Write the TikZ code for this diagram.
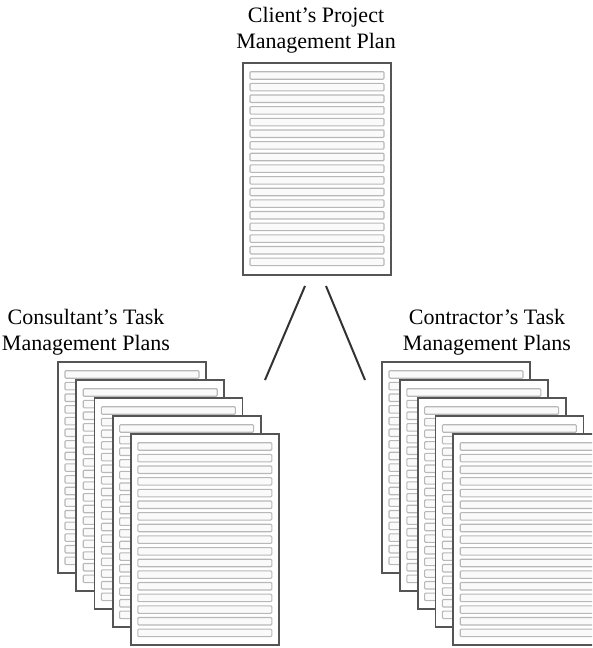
\documentclass[tikz,border=0pt]{standalone}
\usepackage{fontspec}
\setmainfont{Liberation Serif}
\usetikzlibrary{positioning}

\definecolor{framegray}{HTML}{555555}
\definecolor{stripgray}{HTML}{B8B8B8}
\definecolor{linkgray}{HTML}{333333}

\tikzset{
  pageframe/.style={draw=framegray, line width=1.8pt, fill=white},
  stripbox/.style={draw=stripgray, line width=1.1pt, fill=gray!4, rounded corners=1pt},
  planlabel/.style={align=center, font=\fontsize{22}{26}\selectfont, inner sep=0pt},
  link/.style={draw=linkgray, line width=2pt}
}

% #1 left, #2 top, #3 height, #4 number of strips
\newcommand{\planpage}[4]{%
  \draw[pageframe] (#1,#2) rectangle ++(148,#3);
  \foreach \k in {1,...,#4}{
    \draw[stripbox] ({#1+7},{#2+8.7+(\k-1)*11.65}) rectangle ++(134,7.5);
  }
}

\begin{document}
\begin{tikzpicture}[x=1pt, y=-1pt]
  \useasboundingbox (0,0) rectangle (592,648);
  \clip (0,0) rectangle (592,648);

  \node[planlabel] (client) at (316,30) {Client’s Project\\Management Plan};
  \node[planlabel] (consult) at (86,332) {Consultant’s Task\\Management Plans};
  \node[planlabel] (contract) at (487,332) {Contractor’s Task\\Management Plans};

  \planpage{243}{63}{212}{17}

  \foreach \i in {0,...,4}{
    \planpage{58+18.2*\i}{362+18*\i}{211}{17}
  }

  \foreach \i in {0,...,4}{
    \planpage{382+17.8*\i}{362+18*\i}{211}{17}
  }

  \coordinate (lt) at (305,286);
  \coordinate (lb) at (265,380);
  \coordinate (rt) at (326,286);
  \coordinate (rb) at (365,380);

  \draw[link] (lt) -- (lb);
  \draw[link] (rt) -- (rb);
\end{tikzpicture}
\end{document}
